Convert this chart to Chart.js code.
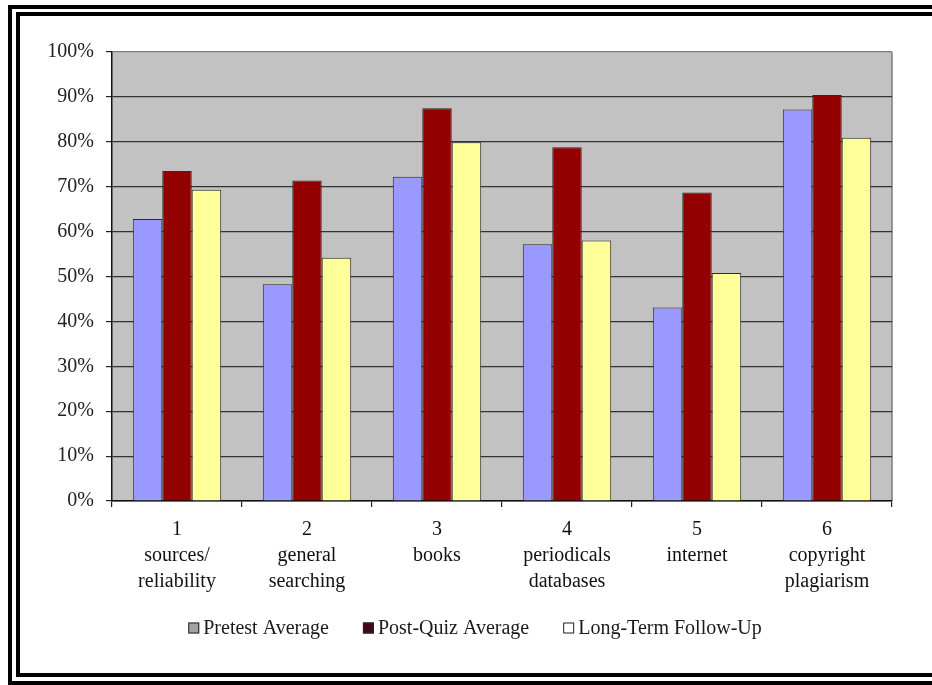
<!DOCTYPE html>
<html>
<head>
<meta charset="utf-8">
<title>Quiz Averages by Topic</title>
<script src="https://cdn.jsdelivr.net/npm/chart.js@4/dist/chart.umd.min.js"></script>
<style>
    html, body { margin: 0; padding: 0; background: #fff; overflow: hidden; }
    .frame-outer { position: absolute; left: 8px; top: 5px; width: 1000px; height: 680px; border: 4px solid #000; box-sizing: border-box; }
    .frame-inner { position: absolute; left: 16px; top: 12px; width: 1000px; height: 665px; border: 4px solid #000; box-sizing: border-box; }
    #chart { position: absolute; left: 0; top: 0; }
</style>
</head>
<body>
<div class="frame-outer"></div>
<div class="frame-inner"></div>
<canvas id="chart" width="932" height="685"></canvas>
<script>
// Chart data
const categories = [
    ['1', 'sources/', 'reliability'],
    ['2', 'general', 'searching'],
    ['3', 'books'],
    ['4', 'periodicals', 'databases'],
    ['5', 'internet'],
    ['6', 'copyright', 'plagiarism']
];
const seriesNames = ['Pretest Average', 'Post-Quiz Average', 'Long-Term Follow-Up'];
const pretest = [62.8, 48.3, 72.2, 57.2, 43.1, 87.2];
const postQuiz = [73.5, 71.4, 87.5, 78.8, 68.7, 90.4];
const longTerm = [69.3, 54.2, 79.9, 58.0, 50.8, 80.9];
const yTicks = [0, 10, 20, 30, 40, 50, 60, 70, 80, 90, 100];

const barColors = ['#9999ff', '#930000', '#ffff99'];
// legend swatches are printed differently from the bars
const legendColors = ['#a3a3a3', '#3d0a16', '#ffffff'];
const FONT = '"Liberation Serif", "Times New Roman", serif';

// Gray plot background with a gray right edge
const plotBackground = {
    id: 'plotBackground',
    beforeDraw(chart) {
        const { ctx, chartArea: a } = chart;
        ctx.save();
        ctx.fillStyle = '#c2c2c2';
        ctx.fillRect(a.left, a.top, a.right - a.left, a.bottom - a.top);
        ctx.strokeStyle = '#7c7c7c';
        ctx.lineWidth = 1.5;
        ctx.beginPath();
        ctx.moveTo(a.right, a.top);
        ctx.lineTo(a.right, a.bottom);
        ctx.stroke();
        ctx.restore();
    }
};

// Legend drawn by hand so the box/text spacing matches
const bottomLegend = {
    id: 'bottomLegend',
    afterDraw(chart) {
        const ctx = chart.ctx;
        const box = 11, gap = 4, spacing = 34, centerX = 475, centerY = 628;
        ctx.save();
        ctx.font = '20px ' + FONT;
        const widths = chart.data.datasets.map(d => box + gap + ctx.measureText(d.label).width);
        const total = widths.reduce((s, w) => s + w, 0) + spacing * (widths.length - 1);
        let x = centerX - total / 2;
        chart.data.datasets.forEach((d, i) => {
            ctx.fillStyle = legendColors[i];
            ctx.fillRect(x, centerY - box / 2, box, box);
            ctx.strokeStyle = '#222';
            ctx.lineWidth = 1;
            ctx.strokeRect(x + 0.5, centerY - box / 2 + 0.5, box - 1, box - 1);
            ctx.fillStyle = '#1a1a1a';
            ctx.textBaseline = 'middle';
            ctx.textAlign = 'left';
            ctx.fillText(d.label, x + box + gap, centerY + 1);
            x += widths[i] + spacing;
        });
        ctx.restore();
    }
};

const datasets = [pretest, postQuiz, longTerm].map((values, i) => ({
    label: seriesNames[i],
    data: values,
    backgroundColor: barColors[i],
    borderColor: '#2a2a2a',
    borderWidth: 1,
    barPercentage: 1.0,
    categoryPercentage: 0.68
}));

new Chart(document.getElementById('chart'), {
    type: 'bar',
    data: { labels: categories, datasets: datasets },
    options: {
        responsive: false,
        animation: false,
        layout: { padding: { top: 52, right: 40, bottom: 74, left: 0 } },
        plugins: {
            legend: { display: false },
            tooltip: { enabled: false }
        },
        scales: {
            x: {
                afterFit(scale) { scale.height = 110; },
                grid: {
                    offset: true,
                    drawOnChartArea: false,
                    drawTicks: true,
                    tickLength: 6,
                    color: '#222',
                    lineWidth: 1.2
                },
                border: { display: true, color: '#111', width: 1.5 },
                ticks: {
                    padding: 10,
                    color: '#111',
                    font: { family: FONT, size: 20, lineHeight: 1.3 },
                    maxRotation: 0,
                    autoSkip: false
                }
            },
            y: {
                min: 0,
                max: 100,
                afterFit(scale) { scale.width = 112; },
                afterBuildTicks(scale) { scale.ticks = yTicks.map(v => ({ value: v })); },
                grid: {
                    drawTicks: true,
                    tickLength: 6,
                    color: ctx => ctx.tick && ctx.tick.value === 100 ? '#7c7c7c' : '#333',
                    tickColor: '#222',
                    lineWidth: 1.2
                },
                border: { display: true, color: '#111', width: 1.5 },
                ticks: {
                    padding: 12,
                    color: '#222',
                    font: { family: FONT, size: 20 },
                    callback: v => v + '%'
                }
            }
        }
    },
    plugins: [plotBackground, bottomLegend]
});
</script>
</body>
</html>
